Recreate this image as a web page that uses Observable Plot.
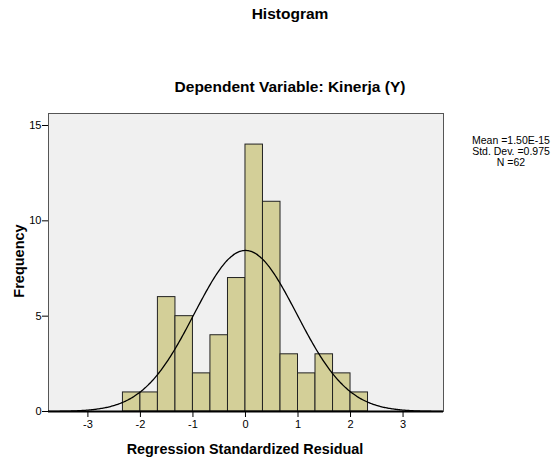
<!DOCTYPE html>
<html><head><meta charset="utf-8">
<script src="https://cdn.jsdelivr.net/npm/d3@7"></script>
<script src="https://cdn.jsdelivr.net/npm/@observablehq/plot@0.6"></script>
<style>
body{margin:0;background:#fff;font-family:"Liberation Sans",Arial,sans-serif;}
#wrap{position:relative;width:551px;height:459px;}
.t{position:absolute;font-weight:bold;color:#000;white-space:nowrap;}
</style></head><body>
<div id="wrap">
  <div class="t" id="title" style="left:190px;width:200px;text-align:center;top:5px;font-size:15.5px;">Histogram</div>
  <div class="t" id="sub" style="left:140px;width:300px;text-align:center;top:78px;font-size:15.5px;">Dependent Variable: Kinerja (Y)</div>
  <div id="stats" style="position:absolute;left:465px;width:92px;top:135px;font-size:10.5px;line-height:11px;text-align:center;color:#000;">Mean =1.50E-15<br>Std. Dev. =0.975<br>N =62</div>
  <div class="t" style="left:45px;width:400px;text-align:center;top:441px;font-size:14.4px;">Regression Standardized Residual</div>
  <div class="t" style="left:19px;top:261px;font-size:14.5px;transform:translate(-50%,-50%) rotate(-90deg);">Frequency</div>
  <div id="chart"></div>
</div>
<script>
const binEdges = [-2.333,-2,-1.667,-1.333,-1,-0.667,-0.333,0,0.333,0.667,1,1.333,1.667,2,2.333];
const counts = [1,1,6,5,2,4,7,14,11,3,2,3,2,1];
const xTicks = [-3,-2,-1,0,1,2,3];
const yTicks = [0,5,10,15];
const mean = 1.50e-15, sd = 0.975, n = 62;

const bars = counts.map((c,i)=>({x1:binEdges[i],x2:binEdges[i+1],y:c}));
const bw = binEdges[1]-binEdges[0];
const xs = d3.range(-3.75,3.77,0.02);
const curve = xs.map(x=>({x, y: n*bw*Math.exp(-0.5*((x-mean)/sd)**2)/(sd*Math.sqrt(2*Math.PI))}));
const fmt = d => String(d);

const chart = Plot.plot({
  width:551, height:459,
  marginLeft:48, marginRight:108, marginTop:113, marginBottom:48,
  style:{fontFamily:"Liberation Sans, Arial, sans-serif", fontSize:"11px", color:"#000", background:"transparent"},
  x:{domain:[-3.75,3.77], ticks:xTicks, label:null},
  y:{domain:[0,15.63], ticks:yTicks, label:null},
  marks:[
    Plot.frame({fill:"#f0f0f0", stroke:"#555"}),
    Plot.rectY(bars,{x1:"x1",x2:"x2",y:"y",fill:"#d3cf98",stroke:"#222",strokeWidth:1}),
    Plot.line(curve,{x:"x",y:"y",stroke:"#000",strokeWidth:1.3,curve:"basis"}),
    Plot.ruleY([0],{stroke:"#000",strokeWidth:2}),
    Plot.axisX({ticks:xTicks, tickSize:6, tickPadding:3, tickFormat:fmt, label:null, fontSize:11}),
    Plot.axisY({ticks:yTicks, tickSize:6, tickPadding:1, tickFormat:fmt, label:null, fontSize:11})
  ]
});
document.getElementById("chart").appendChild(chart);
</script>
</body></html>
